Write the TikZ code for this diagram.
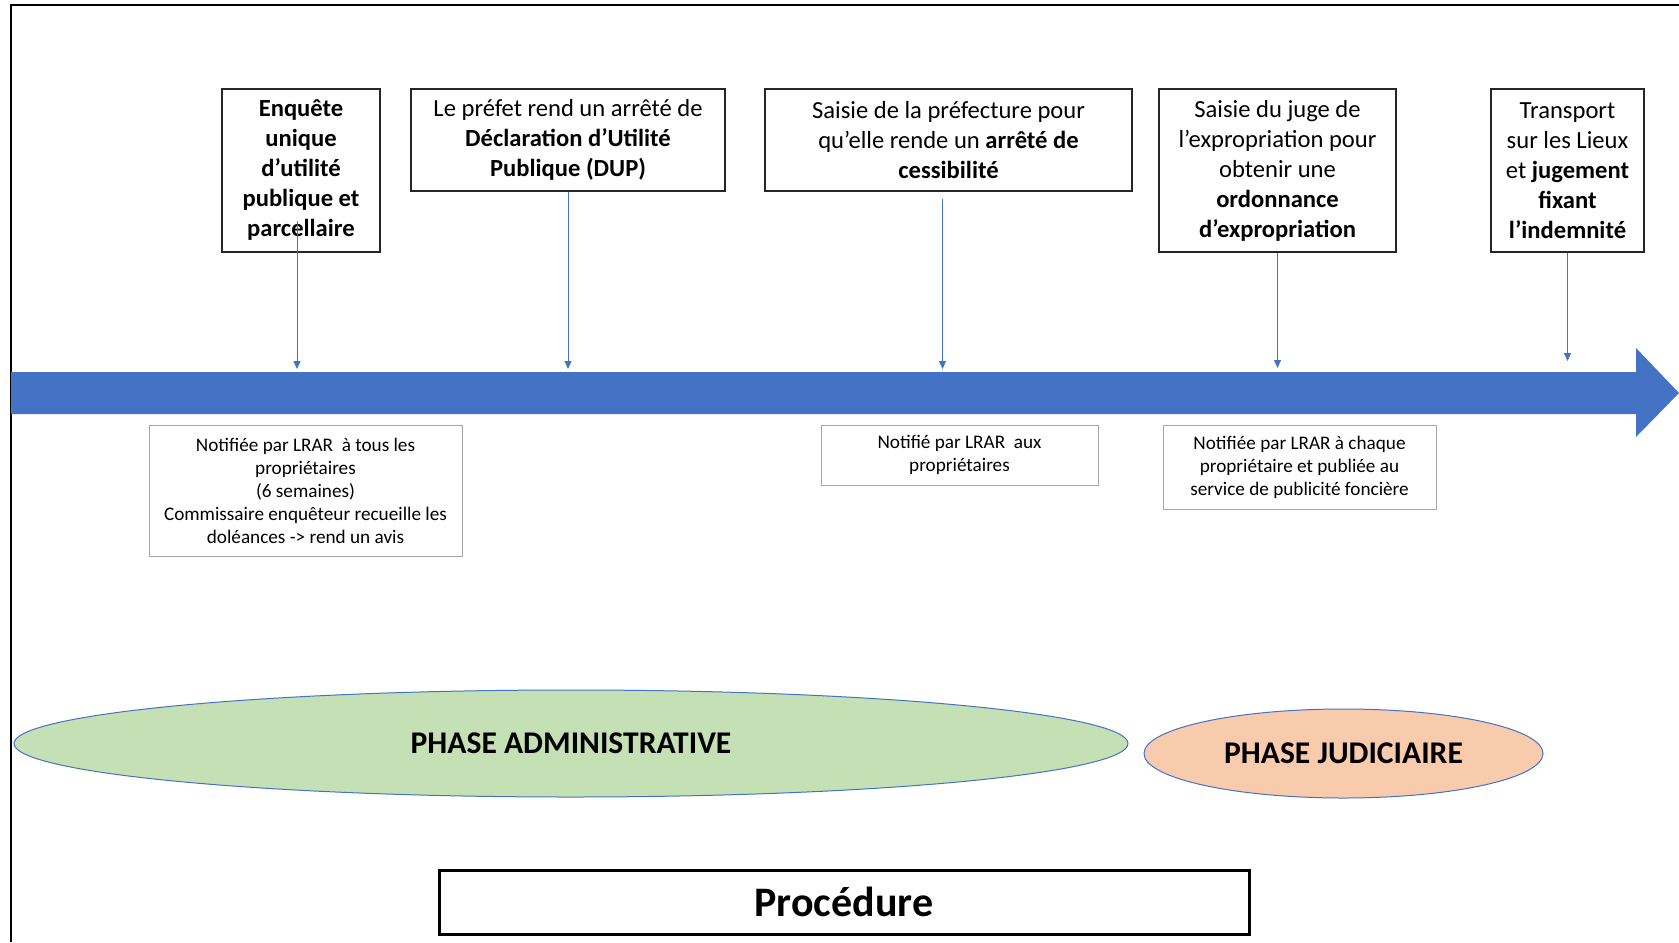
\documentclass[tikz,border=0pt]{standalone}
\usepackage{fontspec}
\setmainfont{Carlito}
\definecolor{timeblue}{HTML}{4472C4}
\definecolor{admgreen}{HTML}{C5E0B4}
\definecolor{judorange}{HTML}{F8CBAD}
\definecolor{notegray}{HTML}{A6A6A6}
\usetikzlibrary{arrows.meta, shapes.geometric}
\tikzset{
	eventbox/.style={rectangle, draw=black!85, line width=0.6pt, fill=white, align=center, inner sep=0pt, font=\fontsize{12.3}{15}\selectfont},
	notebox/.style={rectangle, draw=notegray, line width=0.5pt, fill=white, align=center, inner sep=0pt, font=\fontsize{9.6}{11.5}\selectfont},
	phase/.style={ellipse, draw=timeblue, line width=0.5pt, inner sep=0pt, font=\bfseries\fontsize{15.8}{18}\selectfont},
	marker/.style={-{Triangle[length=4pt, width=3.5pt]}, line width=0.5pt, draw=timeblue},
}

\begin{document}
\begin{tikzpicture}[x=0.5pt, y=-0.5pt]
		\useasboundingbox (0,0) rectangle (1679,942);
		\draw[line width=1pt] (11,942) -- (11,5) -- (1679,5);
		% frise
		\fill[timeblue] (11,372) -- (1636,372) -- (1636,348) -- (1679,393) -- (1636,437) -- (1636,414) -- (11,414) -- cycle;
		\coordinate (t1) at (297,369);
		\coordinate (t2) at (568,369);
		\coordinate (t3) at (942.5,369);
		\coordinate (t4) at (1277.5,368);
		\coordinate (t5) at (1567.5,361);
		% etapes
		\node[eventbox, minimum width=79pt, minimum height=81.5pt] (enquete) at (301,170.5) {\textbf{Enquête}\\\textbf{unique}\\\textbf{d’utilité}\\\textbf{publique et}\\\textbf{parcellaire}};
		\node[eventbox, minimum width=157pt, minimum height=51pt] (dup) at (568,140) {Le préfet rend un arrêté de\\\textbf{Déclaration d’Utilité}\\\textbf{Publique (DUP)}};
		\node[eventbox, minimum width=183.5pt, minimum height=51pt] (cessib) at (948.5,140) {Saisie de la préfecture pour\\qu’elle rende un \textbf{arrêté de}\\\textbf{cessibilité}};
		\node[eventbox, minimum width=118.5pt, minimum height=81.5pt] (ordonnance) at (1277.5,170.5) {Saisie du juge de\\l’expropriation pour\\obtenir une\\\textbf{ordonnance}\\\textbf{d’expropriation}};
		\node[eventbox, minimum width=76.5pt, minimum height=81.5pt] (indemnite) at (1567.5,170.5) {Transport\\sur les Lieux\\et \textbf{jugement}\\\textbf{fixant}\\\textbf{l’indemnité}};
		\draw[marker] ([xshift=-2pt, yshift=16pt]enquete.south) -- (t1);
		\draw[marker] (dup.south) -- (t2);
		\draw[marker] ([xshift=-3pt, yshift=-3.5pt]cessib.south) -- (t3);
		\draw[marker] (ordonnance.south) -- (t4);
		\draw[marker] (indemnite.south) -- (t5);
		% notifications
		\node[notebox, minimum width=156.5pt, minimum height=65.5pt] (notif1) at (305.5,490.5) {Notifiée par LRAR~ à tous les\\propriétaires\\(6 semaines)\\Commissaire enquêteur recueille les\\doléances -> rend un avis};
		\node[notebox, minimum width=138.5pt, minimum height=30pt] (notif2) at (959.5,455) {Notifié par LRAR~ aux\\propriétaires};
		\node[notebox, minimum width=136.5pt, minimum height=42pt] (notif3) at (1299.5,467) {Notifiée par LRAR à chaque\\propriétaire et publiée au\\service de publicité foncière};
		% phases
		\node[phase, fill=admgreen, minimum width=557pt, minimum height=53.5pt] (admin) at (571,743.5) {PHASE ADMINISTRATIVE};
		\node[phase, fill=judorange, minimum width=199.5pt, minimum height=44.5pt] (judic) at (1343.5,753.5) {PHASE JUDICIAIRE};
		\node[rectangle, draw=black, line width=1.5pt, minimum width=405pt, minimum height=32pt, font=\bfseries\fontsize{21}{25}\selectfont] (proc) at (844,902) {Procédure};
	\end{tikzpicture}
\end{document}
